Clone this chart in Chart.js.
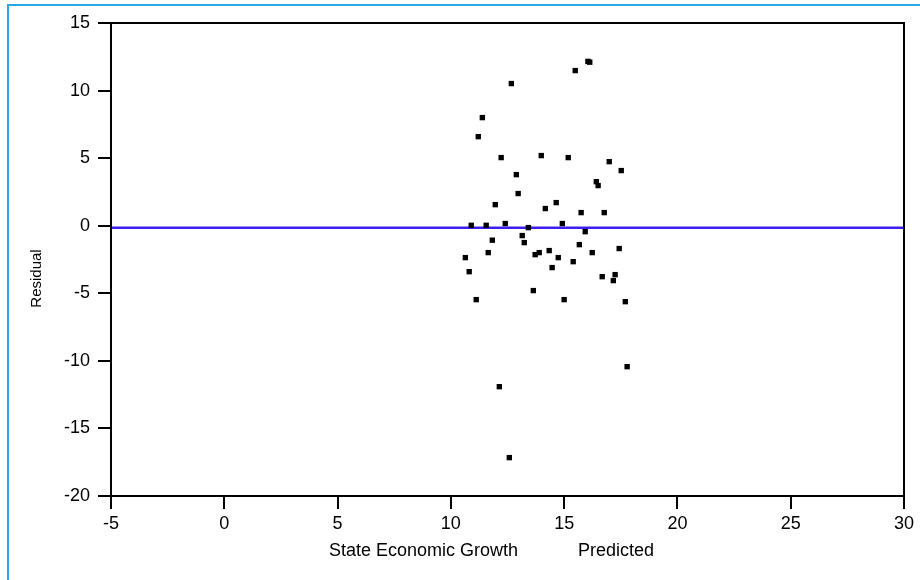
<!DOCTYPE html>
<html>
<head>
<meta charset="utf-8">
<script src="https://cdn.jsdelivr.net/npm/chart.js@4.4.1/dist/chart.umd.min.js"></script>
<style>
    html, body { margin: 0; padding: 0; background: #fff; overflow: hidden; }
    #wrap { position: relative; width: 920px; height: 580px; }
    #frame { position: absolute; left: 7px; top: 4px; width: 960px; height: 620px; border: 2px solid #27aae1; box-sizing: border-box; }
    #chart { position: absolute; left: 0; top: 0; }
</style>
</head>
<body>
<div id="wrap">
    <div id="frame"></div>
    <canvas id="chart" width="920" height="580"></canvas>
</div>
<script>
// predicted growth (x) and residual (y), one entry per state
const predicted = [16.05, 16.13, 15.49, 12.67, 11.39, 11.21, 12.22, 13.99, 15.18, 16.99,
    17.52, 16.42, 16.50, 12.89, 12.97, 11.96, 14.65, 14.17, 15.75, 16.77,
    10.90, 11.56, 12.40, 13.42, 14.92, 15.93, 13.15, 11.83, 13.24, 15.67,
    11.65, 17.43, 13.72, 13.90, 14.34, 16.24, 10.64, 14.74, 15.40, 10.81,
    14.47, 16.68, 17.25, 17.17, 13.64, 11.12, 15.00, 17.70, 17.78, 12.14,
    12.58];
const residual = [12.16, 12.10, 11.48, 10.52, 8.00, 6.59, 5.04, 5.19, 5.04, 4.74,
    4.08, 3.26, 2.97, 3.78, 2.38, 1.56, 1.71, 1.27, 0.97, 0.97,
    0.03, 0.03, 0.16, -0.14, 0.16, -0.44, -0.73, -1.07, -1.25, -1.40,
    -1.99, -1.69, -2.14, -1.99, -1.84, -1.99, -2.36, -2.36, -2.66, -3.40,
    -3.10, -3.77, -3.62, -4.06, -4.80, -5.47, -5.47, -5.62, -10.43, -11.91,
    -17.16];
const meanResidual = -0.15;

const xTicks = [-5, 0, 5, 10, 15, 20, 25, 30];
const yTicks = [-20, -15, -10, -5, 0, 5, 10, 15];
const xTitle = 'State Economic Growth            Predicted';
const yTitle = 'Residual';

const FONT = 'Arial, "Liberation Sans", sans-serif';

// box round the plot plus the two axis titles, placed like the original
const boxAndTitles = {
    id: 'boxAndTitles',
    afterDraw(chart) {
        const ctx = chart.ctx, a = chart.chartArea;
        ctx.save();
        ctx.strokeStyle = '#000';
        ctx.lineWidth = 2;
        ctx.strokeRect(a.left, a.top, a.right - a.left, a.bottom - a.top);
        ctx.fillStyle = '#000';
        ctx.textAlign = 'center';
        ctx.textBaseline = 'middle';
        ctx.font = '18px ' + FONT;
        ctx.fillText(xTitle, (a.left + a.right) / 2 - 16, 551);
        ctx.font = '15px ' + FONT;
        ctx.translate(37, (a.top + a.bottom) / 2 + 19);
        ctx.rotate(-Math.PI / 2);
        ctx.fillText(yTitle, 0, 0);
        ctx.restore();
    }
};

const ctx = document.getElementById('chart').getContext('2d');
const myChart = new Chart(ctx, {
    data: {
        datasets: [{
            type: 'line',
            data: [{ x: -5, y: meanResidual }, { x: 30, y: meanResidual }],
            borderColor: '#3c1ef2',
            borderWidth: 2.5,
            pointRadius: 0,
            fill: false,
            order: 2
        }, {
            type: 'scatter',
            data: predicted.map((p, i) => ({ x: p, y: residual[i] })),
            pointStyle: 'rect',
            pointRadius: 3.8,
            pointBorderWidth: 0,
            backgroundColor: '#000',
            borderColor: '#000',
            order: 1
        }]
    },
    options: {
        responsive: false,
        animation: false,
        events: [],
        layout: { padding: { top: 23, right: 16, left: 0, bottom: 0 } },
        plugins: { legend: { display: false }, tooltip: { enabled: false } },
        scales: {
            x: {
                type: 'linear',
                min: -5, max: 30,
                afterBuildTicks: s => { s.ticks = xTicks.map(v => ({ value: v })); },
                afterFit: s => { s.height = 84; },
                grid: { drawOnChartArea: false, drawTicks: true, tickLength: 13, color: '#000', lineWidth: 2 },
                border: { display: true, color: '#000', width: 2 },
                ticks: { color: '#000', padding: 4, font: { family: FONT, size: 18 }, maxRotation: 0 }
            },
            y: {
                type: 'linear',
                min: -20, max: 15,
                afterBuildTicks: s => { s.ticks = yTicks.map(v => ({ value: v })); },
                afterFit: s => { s.width = 111; },
                grid: { drawOnChartArea: false, drawTicks: true, tickLength: 13, color: '#000', lineWidth: 2 },
                border: { display: true, color: '#000', width: 2 },
                ticks: { color: '#000', padding: 8, font: { family: FONT, size: 18 } }
            }
        }
    },
    plugins: [boxAndTitles]
});
</script>
</body>
</html>
